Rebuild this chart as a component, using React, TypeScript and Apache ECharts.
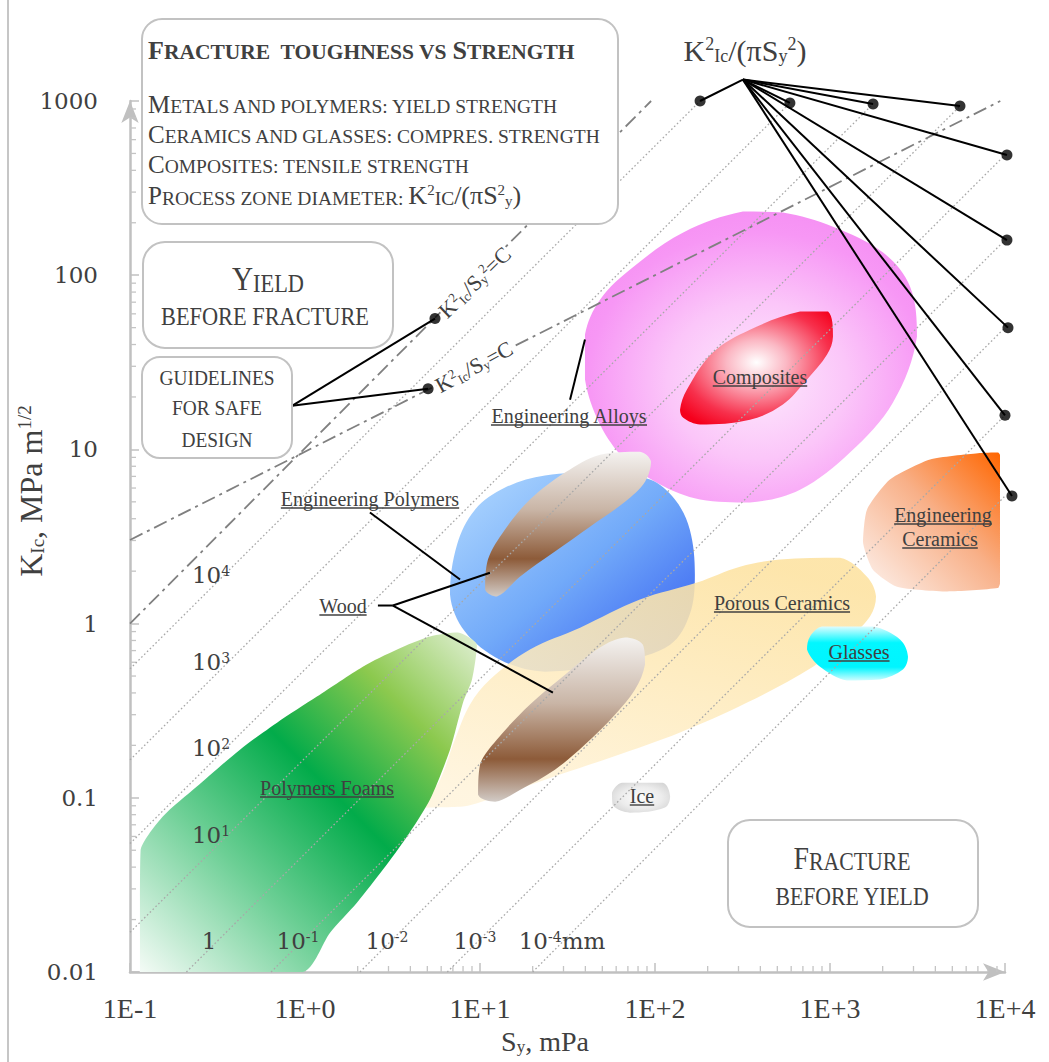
import React, { useEffect, useRef } from 'react';
import * as echarts from 'echarts';

// ---------------- axes ----------------
const X_MIN = 0.1;
const X_MAX = 10000;
const Y_MIN = 0.01;
const Y_MAX = 1000;
const X_TICK_LABELS = ['1E-1', '1E+0', '1E+1', '1E+2', '1E+3', '1E+4'];
const Y_TICK_LABELS = ['0.01', '0.1', '1', '10', '100', '1000'];
const X_DECADES = [0.1, 1, 10, 100, 1000];
const Y_DECADES = [0.01, 0.1, 1, 10, 100];
const MINOR_MULTIPLIERS = [2, 3, 4, 5, 6, 7, 8, 9];

// ---------------- material regions: outline [S_y (MPa), K_Ic (MPa m^1/2)] ----------------
const polymerFoams = [[0.114, 0.01], [0.114, 0.026], [0.115, 0.0504], [0.154, 0.078], [0.241, 0.116], [0.425, 0.189], [0.692, 0.27], [1.17, 0.381], [2.14, 0.566], [3.36, 0.71], [5.18, 0.842], [7.48, 0.888], [9.6, 0.757], [9.0, 0.477], [8.0, 0.352], [6.74, 0.189], [5.18, 0.0977], [3.83, 0.0599], [2.79, 0.0387], [1.98, 0.025], [1.39, 0.0168], [0.975, 0.01]];
const porousCeramics = [[4.72, 0.0879], [5.91, 0.127], [7.19, 0.216], [8.77, 0.343], [11.4, 0.477], [19.3, 0.71], [37.3, 0.948], [82, 1.374], [174, 1.72], [306, 2.12], [518, 2.33], [1140, 2.39], [1627, 1.86], [1832, 1.43], [1693, 1.1], [1250, 0.81], [800, 0.566], [336, 0.352], [139, 0.237], [57.5, 0.172], [28.6, 0.136], [13, 0.103], [8.0, 0.089]];
const engPolymers = [[7.39, 2.84], [9.36, 4.51], [13.9, 6.04], [23.5, 7.08], [48.5, 7.36], [93.6, 6.71], [130, 5.15], [158, 3.47], [169, 1.91], [158, 1.13], [122, 0.757], [63, 0.605], [23.5, 0.53], [13, 0.621], [8.2, 0.9], [6.74, 1.47]];
const woodUpper = [[10.7, 1.57], [11.1, 2.33], [13.9, 3.47], [19.3, 5.15], [30.6, 7.36], [48.5, 9.33], [82, 9.71], [94.9, 8.51], [87.7, 6.53], [67.4, 5.01], [42.5, 3.6], [26.8, 2.59], [16.9, 1.86], [12.5, 1.43]];
const woodLower = [[9.75, 0.104], [10, 0.155], [12.5, 0.216], [19.3, 0.343], [30.6, 0.509], [48.5, 0.728], [67.4, 0.831], [85.3, 0.757], [87.7, 0.582], [76.9, 0.418], [59, 0.3], [39.8, 0.202], [26.8, 0.145], [16.9, 0.111], [12.2, 0.095]];
const engAlloys = [[318, 232], [538, 229], [1040, 190], [2010, 135], [2865, 86.1], [3140, 44.5], [2290, 18.6], [1300, 9.59], [674, 5.87], [349, 4.95], [181, 5.15], [107, 6.28], [67.4, 8.74], [48.5, 13.9], [39.8, 25.2], [39.8, 45.6], [48.5, 72.4], [74.8, 111], [145, 176]];
const composites = [[139, 16.9], [152, 22], [214, 36], [349, 48.7], [674, 61.8], [975, 61.8], [1040, 44.5], [962, 35], [739, 25.2], [538, 18.1], [349, 14.8], [181, 13.9], [145, 15.2]];
const engCeramics = [[3730, 8.74], [7000, 9.5], [9120, 9.59], [9360, 9.3], [9360, 3.95], [9360, 1.7], [9100, 1.6], [4670, 1.53], [2415, 1.63], [1760, 2.04], [1545, 2.92], [1627, 4.51], [2200, 6.71]];
const glasses = [[769, 0.842], [900, 0.961], [1760, 0.961], [2512, 0.81], [2790, 0.647], [2610, 0.545], [1930, 0.477], [1250, 0.471], [877, 0.566], [739, 0.71]];
const ice = [[56.8, 0.107], [64.7, 0.122], [111, 0.122], [122, 0.102], [114, 0.0879], [71.9, 0.0822], [57.5, 0.0902]];

// ---------------- guide lines ----------------
// process zone diameter lines K^2/(pi S^2) = 10^4 ... 10^-4 mm : [S1, K1, S2, K2]
const PZ_EXPONENTS = ['4', '3', '2', '1', '', '-1', '-2', '-3', '-4'];
const processZoneLines = [
  [0.1, 0.55, 181, 1000],
  [0.1, 0.165, 590, 975],
  [0.1, 0.0546, 1762, 962],
  [0.1, 0.0169, 5530, 935],
  [0.21, 0.01, 10000, 490],
  [0.64, 0.01, 10000, 159],
  [2.06, 0.01, 10000, 50],
  [6.5, 0.01, 10000, 15.7],
  [20, 0.01, 10000, 5.4],
];
const processZoneDots = [[181, 1000], [590, 975], [1762, 962], [5530, 935], [10260, 490], [10260, 159], [10400, 50], [10000, 15.7], [10960, 5.4]];
// design guidelines K^2/S = C and K^2/S^2 = C : [S1, K1, S2, K2]
const designLines = [
  [0.1, 3.02, 9400, 1000],
  [0.1, 1, 95, 1000],
];
const designDots = [[5.53, 56.4], [5.05, 22.3]];
// leader anchors [S, K]
const fanHub = [318, 1327];
const guideHub = [0.843, 17.8];
const labelLeaders = [
  [32.7, 19.3, 39.8, 42.7],
  [2.35, 4.34, 7.69, 1.79],
  [2.61, 1.27, 3.18, 1.27],
  [3.18, 1.27, 11.4, 1.96],
  [3.18, 1.27, 26.1, 0.402],
];

const SERIF = '"Liberation Serif", "Times New Roman", serif';
const DSERIF = '"DejaVu Serif", serif';
const INK = '#404040';

function smallCaps(str: string, big: string, small: string): string {
  let out = '';
  let buf = '';
  let kind = '';
  for (const ch of str) {
    const k = ch >= 'A' && ch <= 'Z' ? big : small;
    if (k !== kind && buf) {
      out += `{${kind}|${buf}}`;
      buf = '';
    }
    kind = k;
    buf += ch.toUpperCase();
  }
  if (buf) out += `{${kind}|${buf}}`;
  return out;
}

const tok = (fontSize: number, extra: any = {}) => ({
  fontSize,
  fontFamily: SERIF,
  fill: INK,
  verticalAlign: 'bottom',
  ...extra,
});

export default function App() {
  const ref = useRef<HTMLDivElement>(null);

  useEffect(() => {
    const el = ref.current!;
    const chart = echarts.init(el, null, { renderer: 'svg' });
    const G: any = echarts.graphic;

    const ctx = document.createElement('canvas').getContext('2d')!;
    const measure = (t: string, font: string) => {
      ctx.font = font;
      return ctx.measureText(t).width;
    };

    const regionSeries = (pts: number[][], fill: any, z: number, smooth = 0.35, opacity = 1) => ({
      type: 'custom',
      coordinateSystem: 'cartesian2d',
      z,
      silent: true,
      clip: false,
      data: pts,
      encode: { x: 0, y: 1 },
      renderItem: (params: any, api: any) => {
        if (params.dataIndex !== 0) return null;
        const points = pts.map((p) => api.coord(p));
        const xs = points.map((p: number[]) => p[0]);
        const ys = points.map((p: number[]) => p[1]);
        const constraint = [
          [Math.min(...xs), Math.min(...ys)],
          [Math.max(...xs), Math.max(...ys)],
        ];
        return {
          type: 'polygon',
          shape: { points, smooth, smoothConstraint: constraint },
          style: { fill, opacity },
        };
      },
    });

    const segSeries = (segs: number[][], style: any, z: number) => ({
      type: 'custom',
      coordinateSystem: 'cartesian2d',
      z,
      silent: true,
      clip: false,
      data: segs,
      encode: { x: [0, 2], y: [1, 3] },
      renderItem: (params: any, api: any) => {
        const a = api.coord([api.value(0), api.value(1)]);
        const b = api.coord([api.value(2), api.value(3)]);
        return { type: 'line', shape: { x1: a[0], y1: a[1], x2: b[0], y2: b[1] }, style: { ...style } };
      },
    });

    const xMinor = X_DECADES.flatMap((d) => MINOR_MULTIPLIERS.map((m) => [d * m, Y_MIN]));
    const yMinor = Y_DECADES.flatMap((d) => MINOR_MULTIPLIERS.map((m) => [X_MIN, d * m]));
    const tickSeries = (data: number[][], vertical: boolean) => ({
      type: 'custom',
      coordinateSystem: 'cartesian2d',
      z: 1,
      silent: true,
      clip: false,
      data,
      encode: { x: 0, y: 1 },
      renderItem: (params: any, api: any) => {
        const p = api.coord([api.value(0), api.value(1)]);
        return {
          type: 'line',
          shape: vertical
            ? { x1: p[0], y1: p[1], x2: p[0], y2: p[1] - 6 }
            : { x1: p[0], y1: p[1], x2: p[0] + 6, y2: p[1] },
          style: { stroke: '#c4c4c4', lineWidth: 1.3 },
        };
      },
    });

    const stops = (arr: [number, string][]) => arr.map(([offset, color]) => ({ offset, color }));
    const alloysFill = new G.RadialGradient(0.52, 0.58, 0.6, stops([[0, '#fdeafd'], [0.45, '#fbc6f9'], [0.85, '#f797f5'], [1, '#f590f3']]));
    const compositesFill = new G.RadialGradient(0.5, 0.45, 0.65, stops([[0, '#ffffff'], [0.3, '#fbb8c4'], [0.75, '#f7304c'], [1, '#f5001c']]));
    const polymersFill = new G.LinearGradient(0, 0, 1, 1, stops([[0, '#b4dbff'], [0.5, '#72aaf9'], [1, '#2f56f0']]));
    const woodFill = () => new G.LinearGradient(0, 0, 0, 1, stops([[0, '#f4f2f0'], [0.4, '#c9b5a6'], [0.74, '#8d5b39'], [1, '#d2cbc6']]));
    const porousFill = new G.LinearGradient(0.7, 0, 0.2, 1, stops([[0, '#fde2a0'], [1, '#fff4dc']]));
    const foamsFill = new G.LinearGradient(0, 1, 1, 0, stops([[0, '#f4fbf6'], [0.3, '#6ccf95'], [0.55, '#02ab4a'], [0.78, '#8cc94e'], [1, '#e2f0d6']]));
    const ceramicsFill = new G.LinearGradient(0, 1, 1, 0, stops([[0, '#fdf3ef'], [0.55, '#f8b088'], [1, '#ff6600']]));
    const glassFill = new G.LinearGradient(0, 0, 0, 1, stops([[0, '#dcfcff'], [0.3, '#02f7ff'], [0.75, '#00f5ff'], [1, '#d0fdff']]));
    const iceFill = new G.RadialGradient(0.5, 0.5, 0.6, stops([[0, '#fdfdfd'], [0.6, '#ececec'], [1, '#d6d6d6']]));

    const fanSegs = processZoneDots.map((d) => [fanHub[0], fanHub[1], d[0], d[1]]);
    const guideSegs = designDots.map((d) => [guideHub[0], guideHub[1], d[0], d[1]]);

    // ---------- graphic (annotations) ----------
    const txt = (x: number, y: number, text: string, rich: any, o: any = {}) => ({
      type: 'text',
      x,
      y,
      z: 120,
      silent: true,
      scaleX: o.scaleX ?? 1,
      rotation: o.rotation ?? 0,
      style: {
        text,
        rich,
        fill: INK,
        fontFamily: SERIF,
        fontSize: o.fontSize ?? 20,
        align: o.align ?? 'center',
        verticalAlign: 'middle',
        textAlign: o.align ?? 'center',
        textVerticalAlign: 'middle',
        ...(o.bg ? { backgroundColor: o.bg } : {}),
      },
    });
    const box = (x: number, y: number, w: number, h: number, r: number) => ({
      type: 'rect',
      z: 110,
      silent: true,
      shape: { x, y, width: w, height: h, r },
      style: { fill: '#ffffff', stroke: '#c2c2c2', lineWidth: 2 },
    });

    const boxRich = { B: tok(25), s: tok(19.5), F: tok(26), sup: tok(15, { verticalAlign: 'top', lineHeight: 18 }), sub: tok(15, { lineHeight: 8 }) };
    const titleRich = { B: tok(26, { fontWeight: 'bold' }), s: tok(21.5, { fontWeight: 'bold' }) };
    const bigRich = { B: tok(34), s: tok(26) };
    const fracRich = { B: tok(32), s: tok(25) };
    const fanRich = { N: tok(30), p: tok(18, { verticalAlign: 'top', lineHeight: 20 }), b: tok(18, { lineHeight: 8 }) };
    const rotRich = { N: tok(22), p: tok(13, { verticalAlign: 'top', lineHeight: 14 }), b: tok(13, { lineHeight: 6 }) };
    const yNameRich = { N: tok(32), b: tok(19, { lineHeight: 8 }), p: tok(19, { verticalAlign: 'top', lineHeight: 20 }) };
    const xNameRich = { N: tok(28), b: tok(17, { lineHeight: 8 }) };
    const pzRich = {
      D: { fontSize: 23, fontFamily: DSERIF, fill: INK, verticalAlign: 'bottom' },
      e: { fontSize: 14, fontFamily: DSERIF, fill: INK, verticalAlign: 'top', lineHeight: 16 },
    };

    const regionLabel = (text: string, cx: number, uy: number) => {
      const w = measure(text, `20px ${SERIF}`);
      return [
        txt(cx, uy - 9, text, undefined, { fontSize: 20 }),
        {
          type: 'line',
          z: 120,
          silent: true,
          shape: { x1: cx - w / 2, y1: uy, x2: cx + w / 2, y2: uy },
          style: { stroke: INK, lineWidth: 1.4 },
        },
      ];
    };

    const pzPositions = [[211, 575], [211, 662], [211, 748], [211, 835], [209, 941], [298, 941], [387, 941], [475, 941], [562, 941]];
    const pzTexts = PZ_EXPONENTS.map((e, i) => {
      let t = e === '' ? '{D|1}' : `{D|10}{e|${e}}`;
      if (i === PZ_EXPONENTS.length - 1) t += '{D|mm}';
      return txt(pzPositions[i][0], pzPositions[i][1], t, pzRich, { fontSize: 23 });
    });

    const elements: any[] = [
      { type: 'line', z: 120, silent: true, shape: { x1: 8, y1: 0, x2: 8, y2: 1062 }, style: { stroke: '#c6c6c6', lineWidth: 2 } },
      box(142, 19, 476, 205, 20),
      txt(148, 50, smallCaps('Fracture  toughness vs Strength', 'B', 's'), titleRich, { align: 'left' }),
      txt(148, 104, smallCaps('Metals and polymers: yield strength', 'B', 's'), boxRich, { align: 'left' }),
      txt(148, 134, smallCaps('Ceramics and glasses: compres. strength', 'B', 's'), boxRich, { align: 'left' }),
      txt(148, 164, smallCaps('Composites: tensile strength', 'B', 's'), boxRich, { align: 'left' }),
      txt(148, 195, smallCaps('Process zone diameter: ', 'B', 's') + '{F|K}{sup|2}{s|IC}{F|/(πS}{sup|2}{sub|y}{F|)}', boxRich, { align: 'left' }),

      box(143, 242, 250, 106, 22),
      txt(268, 279, smallCaps('Yield', 'B', 's'), bigRich, { scaleX: 0.86 }),
      txt(265, 316, smallCaps('before fracture', 'B', 's'), bigRich, { scaleX: 0.86 }),

      box(142, 357, 150, 101, 18),
      txt(217, 378, 'GUIDELINES', undefined, { fontSize: 22, scaleX: 0.88 }),
      txt(217, 408, 'FOR SAFE', undefined, { fontSize: 22, scaleX: 0.88 }),
      txt(217, 440, 'DESIGN', undefined, { fontSize: 22, scaleX: 0.88 }),

      box(728, 820, 250, 107, 22),
      txt(852, 858, smallCaps('Fracture', 'B', 's'), fracRich, { scaleX: 0.87 }),
      txt(852, 896, smallCaps('before yield', 'B', 's'), fracRich, { scaleX: 0.87 }),

      txt(745, 50, '{N|K}{p|2}{b|Ic}{N|/(πS}{b|y}{p|2}{N|)}', fanRich),
      txt(442, 314, '{N|K}{p|2}{b|Ic}{N|/S}{b|y}{p|2}{N|=C}', rotRich, { align: 'left', rotation: 0.77, bg: '#ffffff' }),
      txt(437, 387, '{N|K}{p|2}{b|Ic}{N|/S}{b|y}{N|=C}', rotRich, { align: 'left', rotation: 0.5, bg: '#ffffff' }),

      txt(31, 491, '{N|K}{b|Ic}{N|, MPa m}{p|1/2}', yNameRich, { rotation: Math.PI / 2 }),
      txt(545, 1041, '{N|S}{b|y}{N|, mPa}', xNameRich),

      ...pzTexts,
      ...regionLabel('Composites', 760, 386),
      ...regionLabel('Engineering Alloys', 569, 425),
      ...regionLabel('Engineering Polymers', 370, 508),
      ...regionLabel('Wood', 343, 615),
      ...regionLabel('Porous Ceramics', 782, 612),
      ...regionLabel('Glasses', 859, 661),
      ...regionLabel('Engineering', 943, 524),
      ...regionLabel('Ceramics', 940, 548),
      ...regionLabel('Polymers Foams', 327, 797),
      ...regionLabel('Ice', 642, 805),
    ];

    const option: any = {
      animation: false,
      backgroundColor: '#ffffff',
      grid: { left: 130, right: 44, top: 101, bottom: 90, containLabel: false, outerBoundsMode: 'none' },
      xAxis: {
        type: 'log',
        logBase: 10,
        min: X_MIN,
        max: X_MAX,
        axisLine: {
          onZero: false,
          symbol: ['none', 'arrow'],
          symbolSize: [13, 22],
          lineStyle: { color: '#c0c0c0', width: 2.5 },
        },
        axisTick: { inside: true, length: 9, lineStyle: { color: '#c0c0c0', width: 1.5 } },
        splitLine: { show: false },
        axisLabel: {
          fontFamily: SERIF,
          fontSize: 28,
          color: INK,
          margin: 22,
          formatter: (v: number) => X_TICK_LABELS[Math.round(Math.log10(v)) + 1] ?? '',
        },
      },
      yAxis: {
        type: 'log',
        logBase: 10,
        min: Y_MIN,
        max: Y_MAX,
        axisLine: {
          onZero: false,
          symbol: ['none', 'arrow'],
          symbolSize: [13, 22],
          lineStyle: { color: '#c0c0c0', width: 2.5 },
        },
        axisTick: { inside: true, length: 9, lineStyle: { color: '#c0c0c0', width: 1.5 } },
        splitLine: { show: false },
        axisLabel: {
          fontFamily: DSERIF,
          fontSize: 23,
          color: INK,
          margin: 32,
          formatter: (v: number) => Y_TICK_LABELS[Math.round(Math.log10(v)) + 2] ?? '',
        },
      },
      series: [
        tickSeries(xMinor, true),
        tickSeries(yMinor, false),
        regionSeries(engAlloys, alloysFill, 2, 0.35),
        regionSeries(composites, compositesFill, 3, 0.35),
        regionSeries(engPolymers, polymersFill, 4, 0.35),
        regionSeries(woodUpper, woodFill(), 5, 0.35),
        regionSeries(porousCeramics, porousFill, 6, 0.35, 0.88),
        regionSeries(woodLower, woodFill(), 7, 0.35),
        regionSeries(polymerFoams, foamsFill, 8, 0.25),
        regionSeries(engCeramics, ceramicsFill, 9, 0.2),
        regionSeries(glasses, glassFill, 10, 0.35),
        regionSeries(ice, iceFill, 11, 0.35),
        segSeries(processZoneLines, { stroke: '#a8a8a8', lineWidth: 1.3, lineDash: [1.6, 2.4] }, 20),
        segSeries(designLines, { stroke: '#808080', lineWidth: 1.8, lineDash: [14, 5, 3, 5] }, 21),
        segSeries(fanSegs, { stroke: '#000000', lineWidth: 2 }, 22),
        segSeries(guideSegs, { stroke: '#000000', lineWidth: 2 }, 22),
        segSeries(labelLeaders, { stroke: '#000000', lineWidth: 2 }, 22),
        {
          type: 'scatter',
          data: [...processZoneDots, ...designDots],
          symbolSize: 11,
          itemStyle: { color: '#000000' },
          z: 23,
          clip: false,
          silent: true,
        },
      ],
      graphic: { elements },
    };

    chart.setOption(option);
    return () => chart.dispose();
  }, []);

  return <div ref={ref} style={{ position: 'absolute', left: 0, top: 0, width: 1049, height: 1062 }} />;
}
